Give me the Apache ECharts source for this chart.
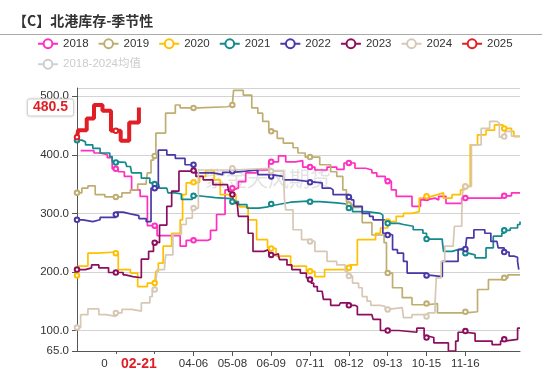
<!DOCTYPE html>
<html><head><meta charset="utf-8">
<script src="https://cdn.jsdelivr.net/npm/echarts@6/dist/echarts.min.js"></script>
<style>html,body{margin:0;padding:0;background:#fff}#c{width:550px;height:374px}</style>
</head><body><div id="c"></div>
<script>
// categories: days of a (leap) year, MM-DD
const monthDays = [31,29,31,30,31,30,31,31,30,31,30,31];
const categories = [];
monthDays.forEach((n, m) => { for (let d = 1; d <= n; d++) categories.push(String(m + 1).padStart(2, '0') + '-' + String(d).padStart(2, '0')); });

const seriesNames = ['2018','2019','2020','2021','2022','2023','2024','2025','2018-2024均值'];
const seriesColors = ['#ff2fc0','#bfae72','#ffc000','#138a8c','#4a38a8','#8c0f5f','#d6c8b4','#e01e25','#c8c8c8'];

// [day index, value] at each weekly change
const s2018 = [[3,407],[14,403],[19,400],[25,395],[29,376],[32,376],[34,371],[39,363],[45,340],[52,329],[58,279],[64,279],[66,262],[85,244],[90,254],[96,254],[108,256],[110,271],[115,298],[122,340],[128,343],[133,354],[139,369],[148,374],[158,388],[160,388],[166,398],[172,388],[180,390],[186,379],[192,379],[196,374],[206,379],[214,375],[220,386],[224,386],[229,377],[238,374],[243,369],[247,363],[254,355],[256,355],[259,340],[263,329],[276,312],[283,323],[288,326],[295,323],[298,329],[304,317],[317,326],[320,326],[350,330],[352,330],[358,335],[365,335]];
const s2019 = [[0,335],[4,343],[9,347],[15,332],[23,328],[32,328],[37,335],[44,340],[50,350],[57,354],[58,369],[61,391],[63,398],[64,398],[65,437],[73,471],[81,485],[85,480],[96,480],[100,482],[124,485],[128,485],[129,510],[137,502],[144,480],[149,471],[153,457],[158,442],[160,440],[165,428],[170,420],[178,412],[182,403],[188,396],[192,396],[200,383],[209,371],[214,363],[219,340],[222,320],[224,315],[227,310],[235,284],[243,263],[253,250],[255,198],[256,198],[260,173],[268,156],[276,144],[288,146],[297,130],[320,132],[330,170],[339,187],[352,190],[355,195],[365,194]];
const s2020 = [[0,194],[1,210],[9,232],[17,234],[32,232],[34,204],[44,198],[50,175],[58,181],[64,181],[65,201],[67,215],[71,244],[78,266],[85,289],[87,332],[90,352],[96,353],[101,363],[106,373],[113,357],[118,332],[128,332],[131,315],[134,311],[141,289],[148,255],[157,241],[160,240],[164,227],[176,210],[189,201],[192,201],[196,192],[204,204],[224,207],[225,212],[231,255],[246,266],[250,275],[256,286],[263,295],[269,300],[276,303],[282,326],[288,329],[292,332],[297,335],[302,326],[309,332],[316,340],[319,343],[320,346],[324,417],[330,434],[337,442],[344,451],[351,445],[352,445],[358,440],[360,431],[365,431]];
const s2021 = [[0,425],[4,422],[7,417],[13,411],[19,403],[27,397],[29,388],[32,387],[40,386],[41,380],[44,377],[45,369],[53,360],[57,360],[60,352],[64,350],[67,349],[68,343],[74,341],[75,335],[81,333],[86,324],[95,329],[96,330],[100,327],[114,325],[127,321],[128,320],[133,315],[140,309],[150,311],[157,313],[160,316],[168,319],[176,321],[190,320],[192,320],[200,318],[214,316],[222,315],[223,309],[224,309],[227,303],[239,300],[250,297],[252,289],[254,286],[256,283],[259,283],[265,281],[269,278],[277,272],[285,266],[288,256],[295,256],[301,252],[302,235],[309,238],[314,241],[320,232],[322,229],[328,224],[337,241],[343,261],[350,266],[352,271],[357,275],[363,281],[365,286]];
const s2022 = [[0,289],[5,286],[13,289],[19,293],[32,298],[33,302],[38,299],[44,296],[51,291],[57,286],[61,343],[64,343],[67,408],[74,400],[81,394],[89,383],[96,383],[97,369],[104,369],[112,366],[120,370],[128,372],[139,374],[149,366],[160,363],[170,357],[180,354],[192,353],[193,352],[202,343],[209,340],[211,332],[224,328],[226,323],[228,312],[235,300],[241,295],[244,289],[252,266],[256,263],[260,238],[264,232],[269,218],[272,198],[288,194],[292,192],[301,218],[314,238],[320,239],[321,258],[327,272],[336,266],[341,252],[346,249],[347,241],[352,234],[356,227],[360,225],[363,218],[364,204]];
const s2023 = [[0,204],[7,207],[12,212],[18,207],[26,199],[32,199],[38,195],[40,192],[46,190],[53,222],[59,235],[63,252],[64,250],[68,280],[74,312],[78,338],[84,372],[96,373],[98,363],[104,357],[112,349],[124,347],[125,337],[128,332],[129,318],[132,315],[133,295],[141,266],[145,235],[154,238],[158,232],[160,229],[163,231],[166,227],[167,221],[173,212],[177,204],[184,198],[189,190],[192,187],[193,181],[195,175],[198,167],[202,164],[203,153],[209,143],[216,145],[217,147],[224,143],[229,141],[231,127],[243,126],[244,119],[250,100],[256,100],[265,99],[266,97],[280,104],[286,91],[288,88],[294,79],[306,65],[312,82],[314,97],[320,99],[321,95],[328,82],[342,76],[349,82],[352,85],[363,104],[365,105]];
const s2024 = [[0,105],[3,127],[9,137],[18,127],[24,124],[32,130],[37,136],[45,133],[53,147],[60,158],[62,170],[64,170],[65,184],[66,204],[72,205],[73,229],[79,264],[86,281],[90,292],[95,306],[96,309],[100,374],[128,377],[160,372],[170,370],[171,323],[172,306],[178,272],[185,255],[192,252],[196,235],[206,218],[214,212],[221,201],[223,193],[224,193],[227,181],[232,173],[235,158],[239,150],[242,143],[250,141],[254,136],[256,136],[257,139],[268,139],[269,122],[276,127],[287,124],[288,124],[289,130],[295,147],[296,190],[300,218],[303,244],[310,249],[311,278],[317,300],[318,346],[320,346],[325,417],[333,445],[340,457],[346,454],[348,430],[352,431],[353,440],[358,432],[365,432]];
const s2025 = [[0,430],[1,442],[8,462],[14,485],[21,475],[28,441],[32,441],[36,424],[43,455],[51,480.5]];
const sAvg = [];

const latestDate = '02-21';
const latestValue = 480.5;
const yMin = 65, yMax = 514;

const seriesData = [s2018, s2019, s2020, s2021, s2022, s2023, s2024, s2025, sAvg];

const chart = echarts.init(document.getElementById('c'));
const series = seriesNames.map((name, i) => ({
  name, type: 'line', data: seriesData[i], step: 'end',
  symbol: 'emptyCircle', symbolSize: 4.5, showAllSymbol: 'auto',
  color: seriesColors[i],
  lineStyle: { color: seriesColors[i], width: name === '2025' ? 4 : 1.7 },
  itemStyle: { color: seriesColors[i], borderWidth: 1 },
  emphasis: { disabled: true },
  z: name === '2025' ? 5 : 2
}));

chart.setOption({
  animation: false,
  textStyle: { fontFamily: '"Liberation Sans", Arial, "Noto Sans CJK SC", sans-serif' },
  title: {
    text: '【C】北港库存-季节性', left: 8, top: 9,
    textStyle: { fontSize: 14, fontWeight: 'bold', color: '#333', fontFamily: '"Noto Sans CJK SC", sans-serif' }
  },
  legend: {
    left: 37, top: 38, padding: 0, itemWidth: 20, itemHeight: 11, itemGap: 9,
    textStyle: { fontSize: 11.5, color: '#333' },
    inactiveColor: '#ccc',
    data: seriesNames,
    selected: { '2018-2024均值': false }
  },
  grid: { left: 77, right: 30, top: 88, bottom: 23, containLabel: false },
  xAxis: {
    type: 'category', data: categories, boundaryGap: false,
    axisLine: { lineStyle: { color: '#555' } },
    axisTick: { interval: 31, length: 5, lineStyle: { color: '#555' } },
    axisLabel: { interval: 31, showMinLabel: false, showMaxLabel: false, color: '#333', fontSize: 11.5, margin: 7 },
    splitLine: { show: false },
    axisPointer: {
      show: true, status: 'show', value: latestDate, type: 'none', triggerTooltip: false,
      label: { show: true, color: '#e01e25', fontWeight: 'bold', fontSize: 14, backgroundColor: '#fff', padding: [3, 13], borderRadius: 0, margin: 3 }
    }
  },
  yAxis: {
    type: 'value', min: yMin, max: yMax,
    axisLine: { show: true, lineStyle: { color: '#555' } },
    axisTick: { show: true, length: 5, lineStyle: { color: '#555' } },
    axisLabel: { formatter: v => v.toFixed(1), showMaxLabel: false, color: '#333', fontSize: 11.5 },
    splitLine: { lineStyle: { color: '#d3d3d3' } },
    axisPointer: {
      show: true, status: 'show', value: latestValue, type: 'none', triggerTooltip: false,
      label: {
        show: true, formatter: p => Number(p.value).toFixed(1), color: '#e01e25', fontWeight: 'bold', fontSize: 14,
        backgroundColor: '#fff', borderColor: '#ddd', borderWidth: 1, padding: [1, 5], borderRadius: 2, margin: 4,
        shadowBlur: 3, shadowColor: 'rgba(0,0,0,0.15)'
      }
    }
  },
  graphic: [
    { type: 'line', silent: true, shape: { x1: 0, y1: 34.5, x2: 542, y2: 34.5 }, style: { stroke: '#aaa', lineWidth: 1 } },
    { type: 'text', silent: true, left: 205, top: 168, z: 0, style: { text: '紫金天风期货', font: '21px "Noto Sans CJK SC"', fill: 'rgba(140,140,140,0.25)' } }
  ],
  series
});
</script></body></html>
